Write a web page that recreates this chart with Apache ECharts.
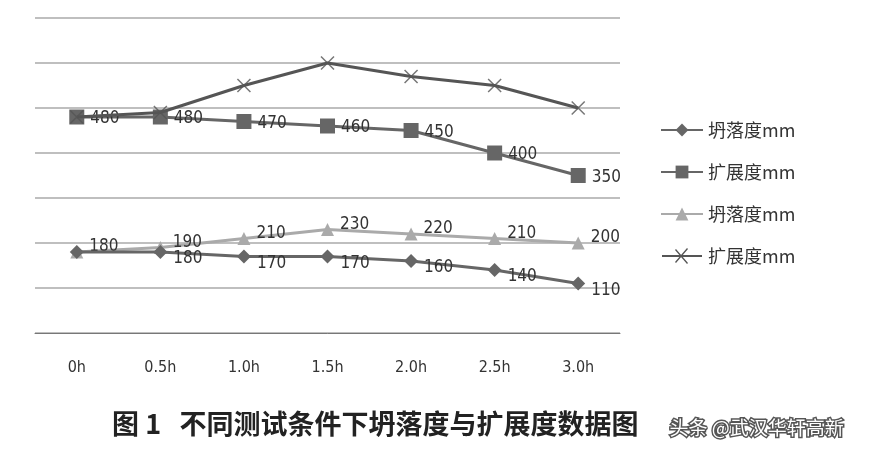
<!DOCTYPE html>
<html>
<head>
<meta charset="utf-8">
<script src="https://cdn.jsdelivr.net/npm/echarts@6/dist/echarts.min.js"></script>
<style>body{margin:0;background:#fff}#main{width:872px;height:452px}</style>
</head>
<body>
<div id="main"></div>
<script>
// 数据
let timeList = ['0h', '0.5h', '1.0h', '1.5h', '2.0h', '2.5h', '3.0h'];
let slump1 = [180, 180, 170, 170, 160, 140, 110];
let spread1 = [480, 480, 470, 460, 450, 400, 350];
let slump2 = [180, 190, 210, 230, 220, 210, 200];
let spread2 = [480, 490, 550, 600, 570, 550, 500];
// 每个系列从第几个点开始显示标签
let labelFrom = [1, 0, 0, 2];
// 标签上下偏移
let labelDy = [7, 2, -5, 4];

function withLabels(arr, from){
	return arr.map(function(v, i){
		return {value: v, label: {show: i >= from}};
	});
}

let labelFont = {color: '#333', fontSize: 17, fontFamily: 'DejaVu Sans Condensed'};

function makeSeries(name, arr, symbol, size, color, idx, z){
	return {
		name: name,
		type: 'line',
		data: withLabels(arr, labelFrom[idx]),
		symbol: symbol,
		symbolSize: size,
		z: z,
		lineStyle: {width: 3, color: color},
		itemStyle: {color: color},
		label: Object.assign({position: 'right', distance: 6, offset: [0, labelDy[idx]]}, labelFont)
	};
}

let crossPath = 'path://M0,0L2,2M2,0L0,2';
let crossIcon = 'path://M0,9L40,9L40,11L0,11Z M14,3L26,17L25,18L13,4Z M26,3L14,17L13,16L25,2Z';

var myChart = echarts.init(document.getElementById('main'));
var option = {
	animation: false,
	grid: {left: 35, right: 252, top: 18, bottom: 119},
	legend: {
		orient: 'vertical',
		left: 655,
		top: 116,
		itemGap: 24,
		itemWidth: 42,
		itemHeight: 16,
		textStyle: {fontSize: 18, color: '#333', fontFamily: 'Noto Sans CJK SC'},
		data: ['坍落度mm', '扩展度mm', '坍落度mm ', {name: '扩展度mm ', icon: crossIcon, itemStyle: {color: '#555'}}]
	},
	xAxis: {
		type: 'category',
		data: timeList,
		axisLine: {lineStyle: {color: '#777'}},
		axisTick: {length: 8, inside: true, lineStyle: {color: '#777'}},
		axisLabel: {margin: 27, fontSize: 16, color: '#333', fontFamily: 'DejaVu Sans Condensed'}
	},
	yAxis: {
		type: 'value', min: 0, max: 700, interval: 100,
		axisLabel: {show: false},
		splitLine: {lineStyle: {color: '#aaa', width: 1.5}}
	},
	series: [
		makeSeries('坍落度mm', slump1, 'diamond', 14, '#666', 0, 4),
		makeSeries('扩展度mm', spread1, 'rect', 15, '#666', 1, 4),
		makeSeries('坍落度mm ', slump2, 'triangle', 13, '#aaa', 2, 3),
		{
			name: '扩展度mm ',
			type: 'line',
			data: withLabels(spread2, labelFrom[3]),
			symbol: 'none',
			z: 5,
			lineStyle: {width: 3, color: '#555'},
			itemStyle: {color: '#555'},
			label: Object.assign({show: true, position: 'right', distance: 14, offset: [0, labelDy[3]]}, labelFont)
		},
		{
			// X 标记
			type: 'scatter',
			data: spread2,
			symbol: crossPath,
			symbolSize: 13,
			z: 6,
			itemStyle: {color: 'none', borderColor: '#555', borderWidth: 1.5},
			tooltip: {show: false}
		}
	],
	graphic: [
		{type: 'text', left: 112, top: 410, style: {text: '图 1   不同测试条件下坍落度与扩展度数据图', fontSize: 27, fontWeight: 'bold', fill: '#222', fontFamily: 'Noto Sans CJK SC'}},
		{type: 'text', left: 668, top: 417, style: {text: '头条 @武汉华轩高新', fontSize: 19, fill: '#fff', stroke: '#555', lineWidth: 3, fontFamily: 'Noto Sans CJK SC'}}
	]
};
myChart.setOption(option);
</script>
</body>
</html>
